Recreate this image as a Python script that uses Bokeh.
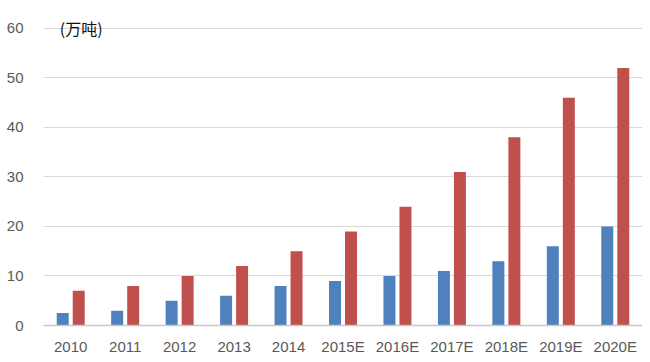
from bokeh.plotting import figure
from bokeh.models import ColumnDataSource, Label, FixedTicker
from bokeh.transform import dodge
from bokeh.embed import file_html
from bokeh.resources import INLINE

years = ["2010", "2011", "2012", "2013", "2014", "2015E", "2016E", "2017E", "2018E", "2019E", "2020E"]
series_blue = [2.5, 3, 5, 6, 8, 9, 10, 11, 13, 16, 20]
series_red = [7, 8, 10, 12, 15, 19, 24, 31, 38, 46, 52]
y_ticks = [0, 10, 20, 30, 40, 50, 60]
unit_label = "(万吨)"

src = ColumnDataSource(dict(x=years, blue=series_blue, red=series_red))

p = figure(x_range=years, y_range=(0, 62), frame_width=599, frame_height=307,
           output_backend="svg", toolbar_location=None,
           min_border_left=43, min_border_right=0, min_border_top=18, min_border_bottom=20)

p.vbar(x=dodge("x", -0.147, range=p.x_range), top="blue", width=0.22, source=src,
       fill_color="#4F81BD", line_color=None)
p.vbar(x=dodge("x", 0.147, range=p.x_range), top="red", width=0.22, source=src,
       fill_color="#C0504D", line_color=None)

p.outline_line_color = None
p.xgrid.grid_line_color = None
p.ygrid.grid_line_color = "#D9D9D9"
p.ygrid.grid_line_width = 1
p.yaxis.ticker = FixedTicker(ticks=y_ticks)
p.yaxis.axis_line_color = None
p.yaxis.major_tick_line_color = None
p.yaxis.minor_tick_line_color = None
p.yaxis.major_label_standoff = 14
p.xaxis.axis_line_color = "#C8C8C8"
p.xaxis.axis_line_width = 1.5
p.xaxis.major_tick_line_color = None
p.xaxis.minor_tick_line_color = None
p.xaxis.major_label_standoff = 6
for ax in (p.xaxis, p.yaxis):
    ax.major_label_text_font = "Liberation Sans"
    ax.major_label_text_font_size = "15px"
    ax.major_label_text_color = "#595959"

p.add_layout(Label(x=0.3, y=60, text=unit_label, text_font="Noto Sans CJK SC",
                   text_font_size="16px", text_color="#111111", text_baseline="middle"))

open("out.html", "w").write(file_html(p, INLINE))
